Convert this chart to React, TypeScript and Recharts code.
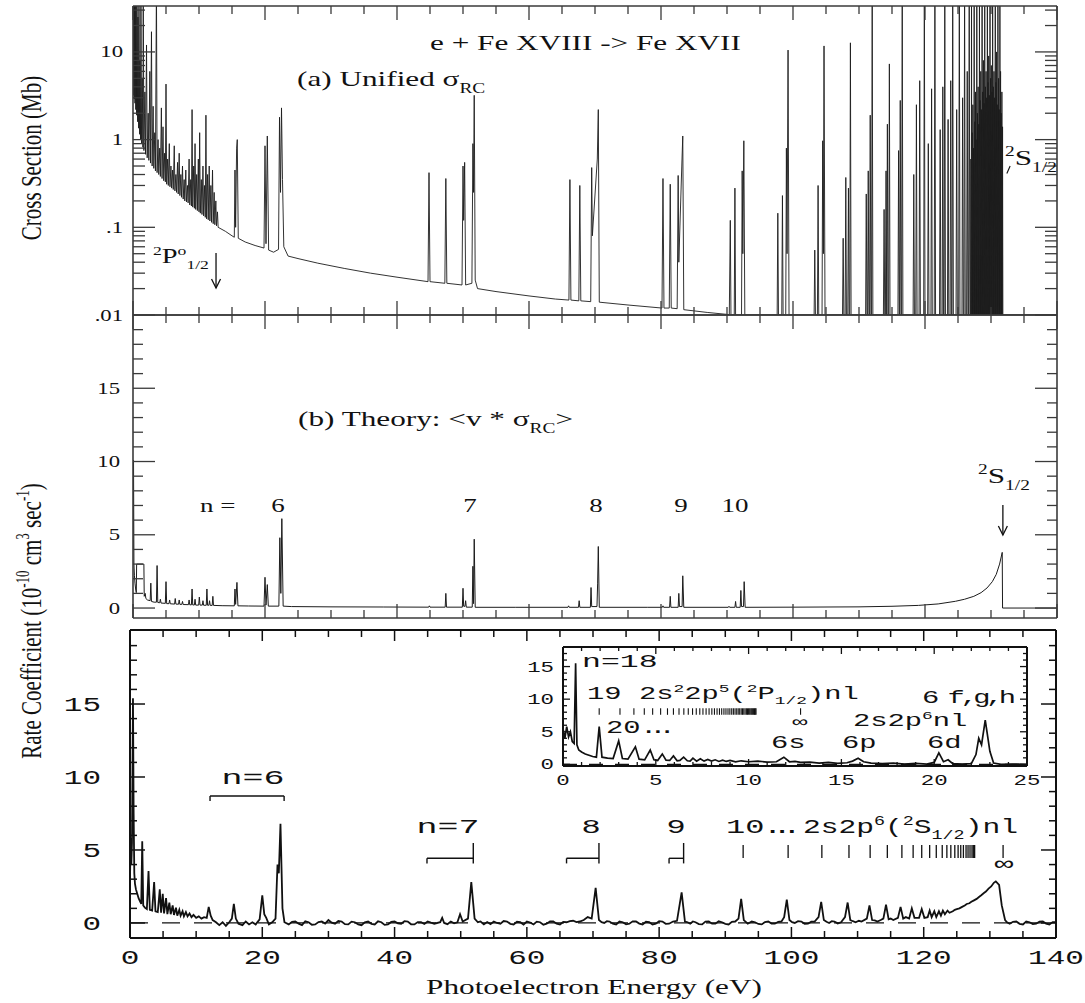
import React from 'react';
import { LineChart, Line, XAxis, YAxis, ReferenceLine, ReferenceDot } from 'recharts';

const SERIF = '"Liberation Serif", "Times New Roman", serif';
const MONO = '"Liberation Mono", "Courier New", monospace';
const SXS = 1.42;
const SXM = 1.6;
const INK = '#111';
const W = 1085;

// ---------- axis ticks ----------
const energyTicks = [0, 5, 10, 15, 20, 25, 30, 35, 40, 45, 50, 55, 60, 65, 70, 75, 80, 85, 90, 95, 100, 105, 110, 115, 120, 125, 130, 135, 140];
const energyLabels = [0, 20, 40, 60, 80, 100, 120, 140];
const logTicks = [0.01, 0.02, 0.03, 0.04, 0.05, 0.06, 0.07, 0.08, 0.09, 0.1, 0.2, 0.3, 0.4, 0.5, 0.6, 0.7, 0.8, 0.9, 1, 2, 3, 4, 5, 6, 7, 8, 9, 10, 20, 30];
const logLabels: Record<string, string> = { '0.01': '.01', '0.1': '.1', '1': '1', '10': '10' };
const rateTicks = [0, 1, 2, 3, 4, 5, 6, 7, 8, 9, 10, 11, 12, 13, 14, 15, 16, 17, 18, 19];
const rateLabels = [0, 5, 10, 15];
const insetXTicks = [0, 1, 2, 3, 4, 5, 6, 7, 8, 9, 10, 11, 12, 13, 14, 15, 16, 17, 18, 19, 20, 21, 22, 23, 24, 25];
const insetXLabels = [0, 5, 10, 15, 20, 25];
const insetYTicks = [0, 1, 2, 3, 4, 5, 6, 7, 8, 9, 10, 11, 12, 13, 14, 15, 16, 17];
const insetYLabels = [0, 5, 10, 15];

// ---------- (a) unified recombination cross section (Mb) ----------
const unifiedSigma: [number, number][] = [
  [0.02, 60], [0.08, 3.2], [0.12, 60], [0.18, 2.9], [0.22, 60], [0.3, 2.6], [0.34, 60], [0.42, 2.2], [0.46, 45], [0.55, 1.9], [0.6, 60], [0.7, 1.6], [0.75, 25], [0.85, 1.35], [0.9, 60], [1.0, 1.15], [1.05, 8], [1.15, 1.0], [1.2, 60], [1.3, 0.9], [1.4, 5], [1.5, 0.82], [1.55, 60], [1.65, 0.75], [1.8, 3.5], [1.9, 0.68], [2.05, 12], [2.15, 0.62], [2.3, 2.0], [2.4, 0.58], [2.55, 6], [2.65, 0.54], [2.8, 17], [2.9, 0.5], [3.05, 2.4], [3.15, 0.47], [3.3, 1.2], [3.4, 0.44], [3.55, 60], [3.65, 0.42], [3.8, 1.0], [3.9, 0.4], [4.05, 0.8], [4.15, 0.38], [4.3, 2.3], [4.4, 0.36], [4.55, 1.4], [4.65, 0.34], [4.8, 0.7], [4.9, 0.33], [5.0, 4.3], [5.1, 0.31], [5.25, 0.6], [5.35, 0.3], [5.5, 0.9], [5.6, 0.29], [5.75, 0.5], [5.85, 0.28], [6.0, 0.45], [6.1, 0.27], [6.25, 0.85], [6.35, 0.26], [6.5, 0.4], [6.6, 0.25], [6.75, 0.55], [6.85, 0.24], [7.0, 0.7], [7.1, 0.23], [7.25, 0.4], [7.35, 0.22], [7.5, 0.5], [7.6, 0.21], [7.75, 0.35], [7.85, 0.2], [8.0, 0.45], [8.1, 0.195], [8.25, 0.3], [8.35, 0.19], [8.5, 0.6], [8.6, 0.18], [8.75, 0.35], [8.85, 0.175], [8.95, 2.2], [9.05, 0.17], [9.2, 0.5], [9.3, 0.165], [9.4, 0.9], [9.5, 0.16], [9.65, 0.4], [9.75, 0.155], [9.9, 0.6], [10.0, 0.15], [10.1, 1.2], [10.2, 0.145], [10.35, 0.35], [10.45, 0.14], [10.6, 0.5], [10.7, 0.135], [10.85, 0.3], [10.95, 0.13], [11.05, 1.9], [11.15, 0.125], [11.3, 0.4], [11.4, 0.122], [11.55, 0.5], [11.65, 0.118], [11.8, 0.3], [11.9, 0.114], [12.05, 0.45], [12.15, 0.11], [12.3, 0.25], [12.4, 0.107], [12.55, 0.2], [12.65, 0.104], [12.8, 0.15], [12.9, 0.1],
  [14, 0.09], [15.0, 0.08], [15.35, 0.077], [15.45, 0.45], [15.55, 0.1], [15.7, 0.8], [15.8, 1.0], [15.95, 0.075], [17, 0.068], [18.5, 0.062], [19.85, 0.058], [20.0, 0.85], [20.15, 0.065], [20.35, 1.1], [20.55, 0.055], [21.3, 0.052], [22.05, 0.056], [22.2, 1.8], [22.35, 0.25], [22.5, 2.3], [22.65, 0.35], [22.85, 0.06], [23.5, 0.047], [25, 0.044], [28, 0.039], [32, 0.034], [36, 0.03], [40, 0.027],
  [44.7, 0.024], [44.85, 0.42], [45.0, 0.024], [47.25, 0.023], [47.4, 0.36], [47.55, 0.023], [49.85, 0.022], [50.0, 0.5], [50.1, 0.12], [50.25, 0.55], [50.4, 0.022], [51.35, 0.023], [51.5, 0.9], [51.6, 0.25], [51.7, 3.2], [51.85, 0.025], [52.2, 0.02], [55, 0.0185], [60, 0.0165], [64, 0.0152],
  [66.05, 0.0148], [66.2, 0.35], [66.35, 0.0148], [67.55, 0.0145], [67.7, 0.3], [67.85, 0.0145], [69.35, 0.0142], [69.5, 0.48], [69.6, 0.08], [70.35, 0.6], [70.5, 2.2], [70.65, 0.014], [75, 0.013],
  [80.15, 0.012], [80.3, 0.36], [80.45, 0.012], [81.25, 0.012], [81.4, 0.31], [81.55, 0.012], [82.45, 0.0118], [82.6, 0.39], [82.7, 0.04], [83.15, 0.5], [83.3, 1.1], [83.45, 0.0115], [87, 0.0107],
  [90.35, 0.0101], [90.5, 0.12], [90.6, 0.01], [91.1, 0.01], [91.2, 0.28], [91.3, 0.01], [92.2, 0.01], [92.3, 0.44], [92.4, 0.05], [92.55, 0.97], [92.7, 0.01],
  [97.6, 0.01], [97.7, 0.145], [97.8, 0.01], [98.3, 0.01], [98.4, 0.23], [98.5, 0.01], [98.9, 0.01], [99.0, 0.8], [99.1, 0.05], [99.25, 10.5], [99.4, 0.01],
  [103.2, 0.01], [103.3, 0.055], [103.4, 0.01], [103.7, 0.01], [103.8, 0.3], [103.9, 0.01], [104.4, 0.01], [104.5, 0.97], [104.6, 0.05], [104.7, 11.7], [104.85, 0.01],
  [107.5, 0.01], [107.6, 0.075], [107.7, 0.01], [107.9, 0.01], [108.0, 0.37], [108.1, 0.01], [108.3, 0.01], [108.4, 0.28], [108.5, 0.01], [108.6, 0.01], [108.7, 12.7], [108.8, 0.01],
  [111.0, 0.01], [111.1, 0.24], [111.2, 0.01], [111.3, 0.01], [111.4, 0.44], [111.5, 0.01], [111.6, 0.01], [111.7, 1.9], [111.8, 0.01], [111.9, 0.01], [112.0, 60], [112.1, 0.01],
  [113.7, 0.01], [113.8, 0.16], [113.9, 0.01], [114.0, 0.01], [114.1, 0.44], [114.2, 0.01], [114.3, 1.5], [114.4, 0.01], [114.5, 0.01], [114.6, 7.3], [114.7, 0.01],
  [115.9, 0.01], [116.0, 0.75], [116.1, 0.01], [116.15, 0.01], [116.25, 2.8], [116.35, 0.01], [116.45, 0.01], [116.55, 60], [116.65, 0.01],
  [118.2, 0.01], [118.3, 0.4], [118.4, 0.01], [118.6, 0.01], [118.7, 2.5], [118.8, 0.01], [119.1, 0.01], [119.2, 4.7], [119.3, 0.01], [119.8, 0.01], [119.9, 60], [120.0, 0.01],
  [120.4, 0.01], [120.5, 0.9], [120.6, 0.01], [120.9, 0.01], [121.0, 3.8], [121.1, 0.01], [121.4, 0.01], [121.5, 60], [121.6, 0.01],
  [122.2, 0.01], [122.3, 1.3], [122.4, 0.01], [122.6, 0.01], [122.7, 4], [122.8, 0.01], [122.9, 0.01], [123.0, 60], [123.1, 0.01],
  [123.4, 0.01], [123.5, 1.7], [123.6, 0.01], [123.8, 0.01], [123.9, 4.7], [124.0, 0.01], [124.1, 0.01], [124.2, 60], [124.3, 0.01],
  [124.7, 0.01], [124.8, 2.2], [124.9, 0.01], [125.1, 0.01], [125.2, 60], [125.3, 0.01],
  [125.6, 0.01], [125.7, 3], [125.8, 0.01], [125.9, 0.01], [126.0, 60], [126.1, 0.01],
  [126.3, 0.01], [126.4, 6], [126.5, 0.01], [126.6, 0.01], [126.7, 60], [126.8, 0.01],
  [126.9, 0.01], [126.95, 0.6], [127.0, 0.01], [127.05, 60], [127.1, 0.01], [127.15, 1.2], [127.2, 0.01], [127.25, 2.5], [127.3, 0.01], [127.35, 0.8], [127.4, 0.01], [127.45, 60], [127.5, 0.01], [127.55, 1.6], [127.6, 0.01], [127.65, 3.5], [127.7, 0.01], [127.75, 1.0], [127.8, 0.01], [127.85, 60], [127.9, 0.01], [127.95, 2.0], [128.0, 0.01], [128.05, 4], [128.1, 0.01], [128.15, 1.5], [128.2, 0.01], [128.25, 60], [128.3, 0.01], [128.35, 2.8], [128.4, 0.01], [128.45, 6], [128.5, 0.01], [128.55, 2.2], [128.6, 0.01], [128.65, 60], [128.7, 0.01], [128.75, 3.5], [128.8, 0.01], [128.85, 8], [128.9, 0.01], [128.95, 2.6], [129.0, 0.01], [129.05, 60], [129.1, 0.01], [129.15, 4], [129.2, 0.01], [129.25, 6], [129.3, 0.01], [129.35, 3], [129.4, 0.01], [129.45, 60], [129.5, 0.01], [129.55, 4.5], [129.6, 0.01], [129.65, 9], [129.7, 0.01], [129.75, 3.2], [129.8, 0.01], [129.85, 60], [129.9, 0.01], [129.95, 5], [130.0, 0.01], [130.05, 7], [130.1, 0.01], [130.15, 3.5], [130.2, 0.01], [130.25, 60], [130.3, 0.01], [130.35, 4], [130.4, 0.01], [130.45, 6], [130.5, 0.01], [130.55, 3], [130.6, 0.01], [130.65, 60], [130.7, 0.01], [130.75, 4.5], [130.8, 0.01], [130.85, 10], [130.9, 0.01], [130.95, 2.5], [131.0, 0.01], [131.05, 60], [131.1, 0.01], [131.15, 5], [131.2, 0.01], [131.25, 2.2], [131.3, 0.01], [131.35, 60], [131.4, 0.01], [131.45, 6], [131.5, 0.01], [131.55, 2], [131.6, 0.01], [131.65, 3.5], [131.7, 0.01], [131.75, 1.4], [131.8, 0.01], [140, 0.01],
];

// ---------- (b) theory rate coefficient (1e-10 cm^3 s^-1) ----------
const theoryRate: [number, number][] = [
  [0.0, 4.0], [0.08, 10.1], [0.14, 3.0], [0.22, 2.2], [0.3, 1.7], [0.4, 1.3], [0.5, 1.05], [0.55, 3.0], [1.65, 3.0], [1.7, 0.8], [1.85, 1.0], [1.95, 0.65], [2.2, 0.55], [2.6, 0.5], [2.7, 1.7], [2.8, 0.45], [3.2, 0.4], [3.55, 0.4], [3.65, 2.9], [3.75, 0.38], [4.05, 0.36], [4.15, 0.6], [4.25, 0.34], [4.9, 0.32], [5.0, 1.8], [5.1, 0.3], [5.45, 0.3], [5.55, 0.55], [5.65, 0.29], [6.3, 0.27], [6.4, 0.65], [6.5, 0.27], [6.9, 0.26], [7.0, 0.55], [7.1, 0.25], [7.4, 0.25], [7.5, 0.45], [7.6, 0.24], [8.4, 0.23], [8.5, 0.55], [8.6, 0.22], [8.85, 0.22], [8.95, 1.3], [9.05, 0.21], [9.3, 0.21], [9.4, 0.6], [9.5, 0.2], [9.95, 0.2], [10.05, 0.75], [10.15, 0.2], [10.5, 0.2], [10.6, 0.5], [10.7, 0.19], [11.1, 0.19], [11.2, 1.3], [11.3, 0.19], [11.5, 0.19], [11.6, 0.5], [11.7, 0.18], [12.0, 0.18], [12.1, 0.8], [12.2, 0.18], [13.5, 0.16],
  [15.35, 0.15], [15.45, 1.3], [15.55, 0.25], [15.75, 1.75], [15.9, 0.15], [17.5, 0.14], [19.85, 0.13], [20.0, 2.1], [20.15, 0.2], [20.35, 1.6], [20.5, 0.13], [22.1, 0.13], [22.25, 4.8], [22.4, 1.0], [22.55, 6.1], [22.75, 0.13], [24, 0.1], [30, 0.08], [38, 0.07],
  [44.8, 0.06], [44.9, 0.15], [45.0, 0.06], [47.3, 0.06], [47.4, 1.0], [47.5, 0.06], [49.9, 0.06], [50.0, 1.35], [50.1, 0.12], [50.3, 0.12], [50.4, 0.5], [50.5, 0.06], [51.4, 0.06], [51.5, 2.85], [51.6, 0.3], [51.7, 4.7], [51.85, 0.05], [58, 0.05],
  [65.9, 0.05], [66.0, 0.15], [66.1, 0.05], [67.5, 0.05], [67.6, 0.5], [67.7, 0.05], [69.3, 0.05], [69.4, 1.4], [69.5, 0.1], [70.3, 0.1], [70.4, 1.7], [70.5, 4.2], [70.65, 0.05], [78, 0.05],
  [80.2, 0.05], [80.3, 0.15], [80.4, 0.05], [81.3, 0.05], [81.4, 0.8], [81.5, 0.05], [82.6, 0.05], [82.7, 1.0], [82.8, 0.1], [83.2, 0.1], [83.3, 2.2], [83.45, 0.05],
  [90.2, 0.05], [90.3, 0.12], [90.4, 0.05], [91.2, 0.05], [91.3, 0.45], [91.4, 0.05], [92.0, 0.05], [92.1, 1.2], [92.2, 0.1], [92.5, 0.1], [92.6, 1.8], [92.75, 0.05],
  [100, 0.06], [105, 0.07], [110, 0.08], [115, 0.12], [119, 0.18], [122, 0.28], [124.6, 0.46], [126, 0.6], [127.4, 0.8], [128.5, 1.05], [129.4, 1.37], [130.2, 1.8], [130.8, 2.3], [131.3, 3.0], [131.7, 3.8], [131.75, 0], [140, 0],
];

// ---------- (c) measured rate coefficient ----------
const measuredRate: [number, number][] = [
  [0.0, 3.0], [0.1, 5.8], [0.2, 4.0], [0.3, 5.5], [0.45, 15.4], [0.55, 7.5], [0.65, 3.4], [0.75, 2.7], [0.9, 2.3], [1.1, 2.0], [1.3, 1.7], [1.5, 1.5], [1.7, 1.3], [1.85, 5.6], [2.0, 1.2], [2.25, 1.05], [2.55, 0.95], [2.8, 3.55], [3.0, 0.9], [3.35, 0.85], [3.65, 2.8], [3.85, 0.8], [4.2, 0.75], [4.5, 2.3], [4.7, 0.7], [4.95, 2.0], [5.15, 0.65], [5.45, 1.7], [5.65, 0.6], [5.95, 1.4], [6.15, 0.6], [6.45, 1.2], [6.65, 0.55], [6.95, 1.05], [7.15, 0.5], [7.45, 0.9], [7.65, 0.5], [7.95, 0.8], [8.15, 0.45], [8.45, 0.75], [8.7, 0.45], [9.0, 0.65], [9.3, 0.4], [9.6, 0.55], [10.0, 0.35], [10.4, 0.45], [10.8, 0.3], [11.2, 0.4], [11.6, 0.35], [11.9, 1.1], [12.2, 0.5], [12.5, 0.2], [13.0, 0.05], [13.5, -0.15], [14.0, 0.05], [14.5, -0.2], [15.0, 0.05], [15.4, 0.3], [15.7, 1.3], [16.0, 0.3], [16.4, -0.05], [17.0, -0.15], [17.5, 0.1], [18.0, -0.1], [18.5, 0.05], [19.0, -0.1], [19.6, 0.25], [20.0, 1.9], [20.3, 0.6], [20.6, 0.35], [21.0, -0.1], [21.5, 0.05], [22.0, 0.3], [22.3, 4.0], [22.5, 3.4], [22.75, 6.8], [23.05, 1.0], [23.35, 0.05],
  [24, -0.1], [24.5, 0.08], [25, 0.1], [25.5, -0.05], [26, -0.15], [26.5, 0.12], [27, 0.05], [27.5, -0.12], [28, -0.1], [28.5, 0.06], [29, 0.1], [29.5, -0.04], [30, 0.2], [30.5, 0.02], [31, -0.05], [31.5, 0.14], [32, 0.1], [32.5, -0.08], [33, -0.1], [33.5, 0.09], [34, 0.05], [34.5, -0.1], [35, -0.15], [35.5, 0.04], [36, 0.1], [36.5, -0.06], [37, -0.1], [37.5, 0.11], [38, 0.05], [38.5, -0.13], [39, -0.1], [39.5, 0.07], [40, 0.1], [40.5, -0.02], [41, -0.05], [41.5, 0.12], [42, 0.1], [42.5, -0.09], [43, -0.1], [43.5, 0.06], [44, 0.05], [44.5, -0.07], [45, 0.1], [45.5, 0.02], [46, -0.05], [46.9, 0.05], [47.2, 0.35], [47.5, 0.0], [48.0, -0.08], [48.5, 0.1], [49.0, -0.02], [49.5, 0.05], [49.9, 0.6], [50.3, 0.1], [51.1, 0.3], [51.6, 2.8], [52.1, 0.3], [52.6, 0.05], [53.0, 0.1], [53.5, -0.1], [54, 0.06], [54.5, -0.08], [55, 0.1], [55.5, 0.0], [56, -0.05], [56.5, 0.13], [57, 0.1], [57.5, -0.06], [58, -0.1], [58.5, 0.08], [59, 0.05], [59.5, -0.11], [60, 0.1], [60.5, 0.03], [61, -0.1], [61.5, 0.09], [62, 0.05], [62.5, -0.12], [63, -0.05], [63.5, 0.1], [64, 0.1], [64.5, -0.05], [65, -0.1], [65.5, 0.07], [66, 0.05], [66.5, 0.12], [67, 0.15], [67.5, 0.06], [68, 0.1], [68.6, 0.2], [69.2, 0.4], [69.8, 0.3], [70.4, 2.4], [70.9, 0.2], [71.3, 0.05], [71.7, 0.0], [72.1, 0.12], [72.5, 0.1], [73.0, -0.05], [73.5, -0.1], [74.0, 0.1], [74.5, 0.05], [75.0, -0.09], [75.5, -0.05], [76.0, 0.11], [76.5, 0.1], [77.0, -0.04], [77.5, -0.1], [78.0, 0.08], [78.5, 0.05], [79.0, -0.1], [79.5, -0.05], [80.0, 0.12], [80.5, 0.1], [81.0, -0.06], [81.5, -0.05], [82.1, 0.1], [82.7, 0.15], [83.4, 2.1], [83.9, 0.1], [84.3, 0.05], [84.7, -0.05], [85.1, 0.1], [85.5, 0.05], [86.0, -0.08], [86.5, -0.1], [87.0, 0.09], [87.5, 0.1], [88.0, -0.05], [88.5, -0.05], [89.0, 0.12], [89.5, 0.05], [90.0, -0.06], [90.5, -0.1], [91.0, 0.08], [91.5, 0.1], [92.0, 0.3], [92.4, 1.65], [92.8, 0.2], [93.4, -0.05], [94.0, 0.1], [94.5, 0.05], [95.0, -0.07], [95.5, -0.1], [96.0, 0.06], [96.5, 0.1], [97.0, -0.04], [97.5, -0.05], [98.0, 0.08], [98.5, 0.1], [98.9, 0.4], [99.3, 1.6], [99.7, 0.2], [100.1, 0.05], [100.5, 0.0], [101.0, 0.12], [101.5, 0.1], [102.0, -0.06], [102.5, -0.05], [103.0, 0.09], [103.5, 0.1], [104.1, 0.4], [104.5, 1.45], [104.9, 0.2], [105.3, 0.08], [105.7, 0.0], [106.1, 0.12], [106.5, 0.1], [107.0, -0.03], [107.5, 0.05], [108.1, 0.4], [108.5, 1.4], [108.9, 0.2], [109.3, 0.12], [109.7, 0.05], [110.2, 0.15], [110.6, 0.1], [111.4, 0.3], [111.8, 1.2], [112.2, 0.2], [112.6, 0.18], [113.0, 0.1], [113.5, 0.2], [113.9, 0.3], [114.3, 1.25], [114.7, 0.25], [115.0, 0.3], [115.4, 0.2], [116.1, 0.35], [116.5, 1.1], [116.9, 0.3], [117.3, 0.4], [117.8, 0.3], [118.2, 1.0], [118.6, 0.35], [119.3, 0.35], [119.7, 0.95], [120.1, 0.35], [120.6, 0.4], [120.9, 0.85], [121.2, 0.4], [121.6, 0.8], [121.9, 0.4], [122.3, 0.8], [122.6, 0.5], [122.9, 0.85], [123.2, 0.6], [123.6, 0.85], [123.9, 0.7], [124.4, 0.8], [124.7, 0.9], [125, 0.95], [125.4, 1.0], [125.8, 1.1], [126.2, 1.2], [126.5, 1.3], [126.9, 1.35], [127.2, 1.45], [127.6, 1.55], [128, 1.65], [128.4, 1.8], [128.7, 1.9], [129.1, 2.05], [129.4, 2.15], [129.8, 2.35], [130.2, 2.5], [130.6, 2.75], [130.9, 2.85], [131.4, 2.6], [131.8, 1.2], [132.3, 0.2], [132.6, 0.05], [133, -0.05], [133.5, 0.08], [134, 0.1], [134.5, -0.06], [135, -0.1], [135.5, 0.1], [136, 0.05], [136.5, -0.08], [137, -0.05], [137.5, 0.09], [138, 0.1], [138.5, -0.04], [139, -0.1], [139.5, 0.06], [140, 0.05],
];

// ---------- inset: measured rate 0-25 eV ----------
const insetRate: [number, number][] = [
  [0.0, 5.5], [0.1, 4.0], [0.2, 5.8], [0.3, 4.2], [0.4, 5.0], [0.5, 3.5], [0.6, 3.2], [0.68, 15.5], [0.75, 3.0], [0.85, 2.2], [1.0, 1.9], [1.2, 1.6], [1.4, 1.4], [1.6, 1.2], [1.8, 1.1], [1.95, 5.8], [2.1, 1.1], [2.4, 0.95], [2.7, 0.9], [3.0, 3.6], [3.2, 0.9], [3.5, 0.8], [3.9, 2.7], [4.1, 0.8], [4.4, 0.7], [4.7, 2.2], [4.9, 0.7], [5.1, 0.6], [5.35, 1.6], [5.55, 0.65], [5.75, 0.6], [5.95, 1.3], [6.15, 0.55], [6.3, 0.6], [6.5, 1.1], [6.7, 0.55], [6.85, 0.5], [7.0, 0.95], [7.2, 0.5], [7.4, 0.85], [7.6, 0.5], [7.8, 0.75], [8.0, 0.5], [8.2, 0.7], [8.4, 0.45], [8.6, 0.65], [8.8, 0.45], [9.0, 0.6], [9.3, 0.4], [9.6, 0.55], [10.0, 0.4], [10.5, 0.5], [11.0, 0.35], [11.5, 0.4], [11.9, 1.1], [12.2, 0.4], [12.5, 0.45], [12.8, 0.3], [13.3, 0.35], [13.8, 0.2], [14.3, 0.3], [14.8, 0.15], [15.3, 0.25], [15.6, 0.5], [15.9, 0.95], [16.2, 0.4], [16.6, 0.2], [17.2, 0.1], [17.8, 0.2], [18.4, 0.05], [19.0, 0.15], [19.6, 0.05], [20.0, 0.3], [20.25, 1.75], [20.5, 0.4], [20.75, 0.7], [21.0, 0.1], [21.5, 0.05], [22.0, 0.1], [22.25, 1.5], [22.4, 4.0], [22.55, 3.0], [22.75, 6.8], [23.0, 2.0], [23.2, 0.2], [23.6, 0.0], [24.2, 0.05], [25, 0.0],
];

// ---------- series limit marks ----------
const pHalfMarks = [1.95, 3.07, 3.82, 4.38, 4.83, 5.26, 5.63, 5.95, 6.25, 6.51, 6.75, 6.98, 7.18, 7.37, 7.54, 7.71, 7.87, 8.02, 8.16, 8.3, 8.43, 8.55, 8.67, 8.78, 8.89, 8.99, 9.09, 9.18, 9.27, 9.36, 9.44, 9.52, 9.6, 9.67, 9.74, 9.81, 9.88, 9.94, 10.0, 10.06, 10.12, 10.17, 10.22, 10.27, 10.32, 10.36, 10.4];
const pHalfLimit = 12.8;
const sHalfMarks = [92.7, 99.5, 104.6, 108.7, 111.9, 114.5, 116.7, 118.4, 119.7, 120.9, 121.9, 122.8, 123.5, 124.1, 124.7, 125.2, 125.6, 126.0, 126.4, 126.7, 127.0, 127.3, 127.5, 127.7];
const sHalfLimit = 132.0;
const nBrackets: { from: number; to: number; y: number; riser: boolean }[] = [
  { from: 12.1, to: 23.3, y: 8.7, riser: false },
  { from: 44.9, to: 51.9, y: 4.43, riser: true },
  { from: 66.0, to: 70.9, y: 4.43, riser: true },
  { from: 81.5, to: 83.7, y: 4.43, riser: true },
];

const rows = (pts: [number, number][]) => pts.map(([x, y]) => ({ x, y }));

// ---------- helpers ----------
type Side = 'bottom' | 'top' | 'left' | 'right';
interface TickLab { text: (v: number) => string | null; dx: number; dy: number; size: number; family: string; sx: number; anchor: 'start' | 'middle' | 'end'; }
function mkTick(side: Side, isMajor: (v: number) => boolean, major: number, minor: number, color: string, sw: number, lab?: TickLab) {
  return (p: any) => {
    const v = Number(p.payload && p.payload.value);
    const L = isMajor(v) ? major : minor;
    const x = p.x, y = p.y;
    let x2 = x, y2 = y;
    if (side === 'bottom') y2 = y - L;
    else if (side === 'top') y2 = y + L;
    else if (side === 'left') x2 = x + L;
    else x2 = x - L;
    const t = lab ? lab.text(v) : null;
    return (
      <g>
        <line x1={x} y1={y} x2={x2} y2={y2} stroke={color} strokeWidth={sw} />
        {t !== null && lab ? (
          <text transform={`translate(${x + lab.dx},${y + lab.dy}) scale(${lab.sx},1)`} fontSize={lab.size} fontFamily={lab.family} textAnchor={lab.anchor} fill={INK}>{t}</text>
        ) : null}
      </g>
    );
  };
}
const m20 = (v: number) => v % 20 === 0;
const m5 = (v: number) => v % 5 === 0;
const decade = (v: number) => Math.abs(Math.log10(v) - Math.round(Math.log10(v))) < 1e-6;

type Seg = [string, number];
function Rich({ x, y, size, family, sx, anchor = 'start', segs, rotate = false, spacing }: { x: number; y: number; size: number; family: string; sx: number; anchor?: string; segs: Seg[]; rotate?: boolean; spacing?: number }) {
  let cur = 0;
  const kids = segs.map(([t, k], i) => {
    const target = k === 1 ? -size * 0.4 : k === -1 ? size * 0.3 : 0;
    const dy = target - cur;
    cur = target;
    return <tspan key={i} dy={dy} fontSize={k === 0 ? size : size * 0.62}>{t}</tspan>;
  });
  return (
    <text transform={`translate(${x},${y}) scale(${sx},1)${rotate ? ' rotate(-90)' : ''}`} fontSize={size} fontFamily={family} textAnchor={anchor as any} fill={INK} letterSpacing={spacing}>{kids}</text>
  );
}

const arrowHead = (p: any) => (
  <path d={`M${p.cx - 4.5},${p.cy - 9} L${p.cx},${p.cy} L${p.cx + 4.5},${p.cy - 9}`} fill="none" stroke={INK} strokeWidth={1.3} />
);

const frameTop = { stroke: '#3a3a3a', strokeWidth: 1.6 };
const frameBot = { stroke: '#111', strokeWidth: 2 };

// plot box helper: axes take 1px each, so margins are reduced by 1
const box = (l: number, t: number, r: number, b: number) => ({ left: l - 1, top: t - 1, right: r - 1, bottom: b - 1 });

function PanelA() {
  const c = '#3a3a3a';
  return (
    <div style={{ position: 'absolute', left: 0, top: 0 }}>
      <LineChart width={W} height={330} data={rows(unifiedSigma)} margin={box(133, 6, W - 1057, 15)}>
        <XAxis dataKey="x" type="number" domain={[0, 140]} allowDataOverflow ticks={energyTicks} interval={0} height={1} tickSize={0} tickMargin={0} tickLine={false} axisLine={frameTop} tick={mkTick('bottom', m20, 14, 8, c, 1.3)} />
        <XAxis xAxisId="top" orientation="top" dataKey="x" type="number" domain={[0, 140]} allowDataOverflow ticks={energyTicks} interval={0} height={1} tickSize={0} tickMargin={0} tickLine={false} axisLine={frameTop} tick={mkTick('top', m20, 14, 8, c, 1.3)} />
        <YAxis scale="log" type="number" domain={[0.01, 33.4]} allowDataOverflow ticks={logTicks} interval={0} width={1} tickSize={0} tickMargin={0} tickLine={false} axisLine={frameTop}
          tick={mkTick('left', decade, 22, 12, c, 1.3, { text: (v) => (logLabels[String(v)] ?? null), dx: -10, dy: 5.5, size: 16, family: SERIF, sx: SXS, anchor: 'end' })} />
        <YAxis yAxisId="right" orientation="right" scale="log" type="number" domain={[0.01, 33.4]} allowDataOverflow ticks={logTicks} interval={0} width={1} tickSize={0} tickMargin={0} tickLine={false} axisLine={frameTop} tick={mkTick('right', decade, 22, 12, c, 1.3)} />
        <Line dataKey="y" type="linear" stroke="#1c1c1c" strokeWidth={0.9} dot={false} activeDot={false} isAnimationActive={false} />
        <ReferenceLine segment={[{ x: 12.58, y: 0.0509 }, { x: 12.58, y: 0.0205 }]} stroke={INK} strokeWidth={1.3} />
        <ReferenceDot x={12.58} y={0.0203} r={1} shape={arrowHead} />
        <ReferenceLine segment={[{ x: 132.9, y: 0.5 }, { x: 132.4, y: 0.41 }]} stroke={INK} strokeWidth={1.1} />
      </LineChart>
    </div>
  );
}

function PanelB() {
  const c = '#3a3a3a';
  return (
    <div style={{ position: 'absolute', left: 0, top: 300 }}>
      <LineChart width={W} height={330} data={rows(theoryRate)} margin={box(133, 15, W - 1057, 12)}>
        <XAxis dataKey="x" type="number" domain={[0, 140]} allowDataOverflow ticks={energyTicks} interval={0} height={1} tickSize={0} tickMargin={0} tickLine={false} axisLine={frameTop} tick={mkTick('bottom', m20, 14, 8, c, 1.3)} />
        <XAxis xAxisId="top" orientation="top" dataKey="x" type="number" domain={[0, 140]} allowDataOverflow ticks={energyTicks} interval={0} height={1} tickSize={0} tickMargin={0} tickLine={false} axisLine={frameTop} tick={mkTick('top', m20, 14, 8, c, 1.3)} />
        <YAxis type="number" domain={[-0.68, 20]} allowDataOverflow ticks={rateTicks} interval={0} width={1} tickSize={0} tickMargin={0} tickLine={false} axisLine={frameTop}
          tick={mkTick('left', m5, 22, 10, c, 1.3, { text: (v) => (rateLabels.includes(v) ? String(v) : null), dx: -13, dy: 5.5, size: 16, family: SERIF, sx: SXS, anchor: 'end' })} />
        <YAxis yAxisId="right" orientation="right" type="number" domain={[-0.68, 20]} allowDataOverflow ticks={rateTicks} interval={0} width={1} tickSize={0} tickMargin={0} tickLine={false} axisLine={frameTop} tick={mkTick('right', m5, 22, 10, c, 1.3)} />
        <Line dataKey="y" type="linear" stroke="#1c1c1c" strokeWidth={1} dot={false} activeDot={false} isAnimationActive={false} />
        <ReferenceLine segment={[{ x: 131.8, y: 7.03 }, { x: 131.8, y: 5.0 }]} stroke={INK} strokeWidth={1.3} />
        <ReferenceDot x={131.8} y={4.98} r={1} shape={arrowHead} />
      </LineChart>
    </div>
  );
}

function PanelC() {
  const c = '#111';
  const refs: React.ReactNode[] = [];
  nBrackets.forEach((b, i) => {
    refs.push(<ReferenceLine key={`bh${i}`} segment={[{ x: b.from, y: b.y }, { x: b.to, y: b.y }]} stroke={INK} strokeWidth={1.4} />);
    refs.push(<ReferenceLine key={`bl${i}`} segment={[{ x: b.from, y: b.y }, { x: b.from, y: b.y - 0.35 }]} stroke={INK} strokeWidth={1.4} />);
    refs.push(<ReferenceLine key={`br${i}`} segment={[{ x: b.to, y: b.riser ? b.y + 1.05 : b.y }, { x: b.to, y: b.y - 0.35 }]} stroke={INK} strokeWidth={1.4} />);
  });
  sHalfMarks.forEach((m, i) => {
    refs.push(<ReferenceLine key={`s${i}`} segment={[{ x: m, y: 4.45 }, { x: m, y: 5.34 }]} stroke={INK} strokeWidth={1.3} />);
  });
  refs.push(<ReferenceLine key="sinf" segment={[{ x: sHalfLimit, y: 4.45 }, { x: sHalfLimit, y: 5.34 }]} stroke={INK} strokeWidth={1.3} />);
  return (
    <div style={{ position: 'absolute', left: 0, top: 620 }}>
      <LineChart width={W} height={383} data={rows(measuredRate)} margin={box(130, 10, W - 1056, 65)}>
        <XAxis dataKey="x" type="number" domain={[0, 140]} allowDataOverflow ticks={energyTicks} interval={0} height={1} tickSize={0} tickMargin={0} tickLine={false} axisLine={frameBot}
          tick={mkTick('bottom', m20, 11, 7, c, 1.5, { text: (v) => (energyLabels.includes(v) ? String(v) : null), dx: 0, dy: 26, size: 20, family: MONO, sx: 1.55, anchor: 'middle' })} />
        <XAxis xAxisId="top" orientation="top" dataKey="x" type="number" domain={[0, 140]} allowDataOverflow ticks={energyTicks} interval={0} height={1} tickSize={0} tickMargin={0} tickLine={false} axisLine={frameBot} tick={mkTick('top', m20, 11, 7, c, 1.5)} />
        <YAxis type="number" domain={[-1.03, 20.07]} allowDataOverflow ticks={rateTicks} interval={0} width={1} tickSize={0} tickMargin={0} tickLine={false} axisLine={frameBot}
          tick={mkTick('left', m5, 15, 7, c, 1.5, { text: (v) => (rateLabels.includes(v) ? String(v) : null), dx: -29, dy: 7, size: 20, family: MONO, sx: 1.55, anchor: 'end' })} />
        <YAxis yAxisId="right" orientation="right" type="number" domain={[-1.03, 20.07]} allowDataOverflow ticks={rateTicks} interval={0} width={1} tickSize={0} tickMargin={0} tickLine={false} axisLine={frameBot} tick={mkTick('right', m5, 15, 7, c, 1.5)} />
        <ReferenceLine y={0} stroke={INK} strokeWidth={1.3} strokeDasharray="18 14" />
        <Line dataKey="y" type="linear" stroke="#111" strokeWidth={1.8} dot={false} activeDot={false} isAnimationActive={false} />
        {refs}
      </LineChart>
    </div>
  );
}

function Inset() {
  const c = '#111';
  const refs: React.ReactNode[] = pHalfMarks.map((m, i) => (
    <ReferenceLine key={`p${i}`} segment={[{ x: m, y: 7.6 }, { x: m, y: 8.6 }]} stroke={INK} strokeWidth={1.1} />
  ));
  refs.push(<ReferenceLine key="pinf" segment={[{ x: pHalfLimit, y: 7.6 }, { x: pHalfLimit, y: 8.6 }]} stroke={INK} strokeWidth={1.1} />);
  return (
    <div style={{ position: 'absolute', left: 480, top: 630 }}>
      <LineChart width={580} height={170} data={rows(insetRate)} margin={box(83, 17, 33, 34)}>
        <XAxis dataKey="x" type="number" domain={[0, 25]} allowDataOverflow ticks={insetXTicks} interval={0} height={1} tickSize={0} tickMargin={0} tickLine={false} axisLine={frameBot}
          tick={mkTick('bottom', m5, 7, 4, c, 1.3, { text: (v) => (insetXLabels.includes(v) ? String(v) : null), dx: 0, dy: 19, size: 14, family: MONO, sx: 1.6, anchor: 'middle' })} />
        <XAxis xAxisId="top" orientation="top" dataKey="x" type="number" domain={[0, 25]} allowDataOverflow ticks={insetXTicks} interval={0} height={1} tickSize={0} tickMargin={0} tickLine={false} axisLine={frameBot} tick={mkTick('top', m5, 7, 4, c, 1.3)} />
        <YAxis type="number" domain={[-0.25, 18]} allowDataOverflow ticks={insetYTicks} interval={0} width={1} tickSize={0} tickMargin={0} tickLine={false} axisLine={frameBot}
          tick={mkTick('left', m5, 7, 4, c, 1.3, { text: (v) => (insetYLabels.includes(v) ? String(v) : null), dx: -9, dy: 5, size: 14, family: MONO, sx: 1.6, anchor: 'end' })} />
        <YAxis yAxisId="right" orientation="right" type="number" domain={[-0.25, 18]} allowDataOverflow ticks={insetYTicks} interval={0} width={1} tickSize={0} tickMargin={0} tickLine={false} axisLine={frameBot} tick={mkTick('right', m5, 7, 4, c, 1.3)} />
        <ReferenceLine y={0} stroke={INK} strokeWidth={1.2} strokeDasharray="14 12" />
        <Line dataKey="y" type="linear" stroke="#111" strokeWidth={1.7} dot={false} activeDot={false} isAnimationActive={false} />
        {refs}
      </LineChart>
    </div>
  );
}

function Overlay() {
  return (
    <svg width={W} height={1003} style={{ position: 'absolute', left: 0, top: 0, pointerEvents: 'none' }}>
      {/* axis titles */}
      <Rich x={41} y={158} size={21} family={SERIF} sx={SXS} anchor="middle" rotate segs={[['Cross Section (Mb)', 0]]} />
      <Rich x={41} y={621} size={21} family={SERIF} sx={SXS} anchor="middle" rotate segs={[['Rate Coefficient (10', 0], ['-10', 1], [' cm', 0], ['3', 1], [' sec', 0], ['-1', 1], [')', 0]]} />
      <Rich x={594} y={994} size={22} family={SERIF} sx={SXS} anchor="middle" segs={[['Photoelectron Energy (eV)', 0]]} />
      {/* panel a */}
      <Rich x={430} y={50} size={22} family={SERIF} sx={SXS} segs={[['e + Fe XVIII -> Fe XVII', 0]]} />
      <Rich x={297} y={86} size={22} family={SERIF} sx={SXS} segs={[['(a) Unified σ', 0], ['RC', -1]]} />
      <Rich x={153} y={263} size={20} family={SERIF} sx={SXS} segs={[['2', 1], ['P', 0], ['o', 1], ['1/2', -1]]} />
      <Rich x={1005} y={165} size={22} family={SERIF} sx={SXS} segs={[['2', 1], ['S', 0], ['1/2', -1]]} />
      {/* panel b */}
      <Rich x={298} y={426} size={22} family={SERIF} sx={SXS} segs={[['(b) Theory: <v * σ', 0], ['RC', -1], ['>', 0]]} />
      <Rich x={200} y={512} size={19} family={SERIF} sx={SXS} segs={[['n =', 0]]} />
      <Rich x={278} y={512} size={19} family={SERIF} sx={SXS} anchor="middle" segs={[['6', 0]]} />
      <Rich x={470} y={512} size={19} family={SERIF} sx={SXS} anchor="middle" segs={[['7', 0]]} />
      <Rich x={596} y={512} size={19} family={SERIF} sx={SXS} anchor="middle" segs={[['8', 0]]} />
      <Rich x={681} y={512} size={19} family={SERIF} sx={SXS} anchor="middle" segs={[['9', 0]]} />
      <Rich x={735} y={512} size={19} family={SERIF} sx={SXS} anchor="middle" segs={[['10', 0]]} />
      <Rich x={978} y={483} size={22} family={SERIF} sx={SXS} segs={[['2', 1], ['S', 0], ['1/2', -1]]} />
      {/* panel c */}
      <Rich x={253} y={784} size={20} family={MONO} sx={1.75} anchor="middle" segs={[['n=6', 0]]} />
      <Rich x={448} y={833} size={20} family={MONO} sx={1.75} anchor="middle" segs={[['n=7', 0]]} />
      <Rich x={591} y={833} size={20} family={MONO} sx={SXM} anchor="middle" segs={[['8', 0]]} />
      <Rich x={676} y={833} size={20} family={MONO} sx={SXM} anchor="middle" segs={[['9', 0]]} />
      <Rich x={726} y={833} size={20} family={MONO} sx={SXM} segs={[['10', 0]]} />
      <Rich x={763} y={833} size={20} family={MONO} sx={1.6} spacing={-6} segs={[['...', 0]]} />
      <Rich x={803} y={833} size={20} family={MONO} sx={1.48} segs={[['2s2p', 0], ['6', 1], ['(', 0], ['2', 1], ['S', 0], ['1/2', -1], [')nl', 0]]} />
      <Rich x={1004} y={870} size={20} family={MONO} sx={SXM} anchor="middle" segs={[['∞', 0]]} />
      {/* inset */}
      <Rich x={582} y={667} size={18} family={MONO} sx={1.75} segs={[['n=18', 0]]} />
      <Rich x={587} y={699} size={18} family={MONO} sx={SXM} segs={[['19', 0]]} />
      <Rich x={639} y={699} size={18} family={MONO} sx={SXM} segs={[['2s', 0], ['2', 1], ['2p', 0], ['5', 1], ['(', 0], ['2', 1], ['P', 0], ['1/2', -1], [')nl', 0]]} />
      <Rich x={606} y={733} size={18} family={MONO} sx={SXM} segs={[['20', 0]]} />
      <Rich x={640} y={733} size={18} family={MONO} sx={SXM} spacing={-5} segs={[['...', 0]]} />
      <Rich x={800} y={727} size={16} family={MONO} sx={SXM} anchor="middle" segs={[['∞', 0]]} />
      <Rich x={853} y={726} size={18} family={MONO} sx={SXM} segs={[['2s2p', 0], ['6', 1], ['nl', 0]]} />
      <Rich x={922} y={703} size={18} family={MONO} sx={SXM} spacing={-2.8} segs={[['6 f,g,h', 0]]} />
      <Rich x={771} y={748} size={18} family={MONO} sx={SXM} segs={[['6s', 0]]} />
      <Rich x={842} y={748} size={18} family={MONO} sx={SXM} segs={[['6p', 0]]} />
      <Rich x={927} y={748} size={18} family={MONO} sx={SXM} segs={[['6d', 0]]} />
    </svg>
  );
}

export default function App() {
  return (
    <div style={{ position: 'absolute', left: 0, top: 0, width: W, height: 1003, background: '#fff', overflow: 'hidden' }}>
      <PanelA />
      <PanelB />
      <PanelC />
      <Inset />
      <Overlay />
    </div>
  );
}
